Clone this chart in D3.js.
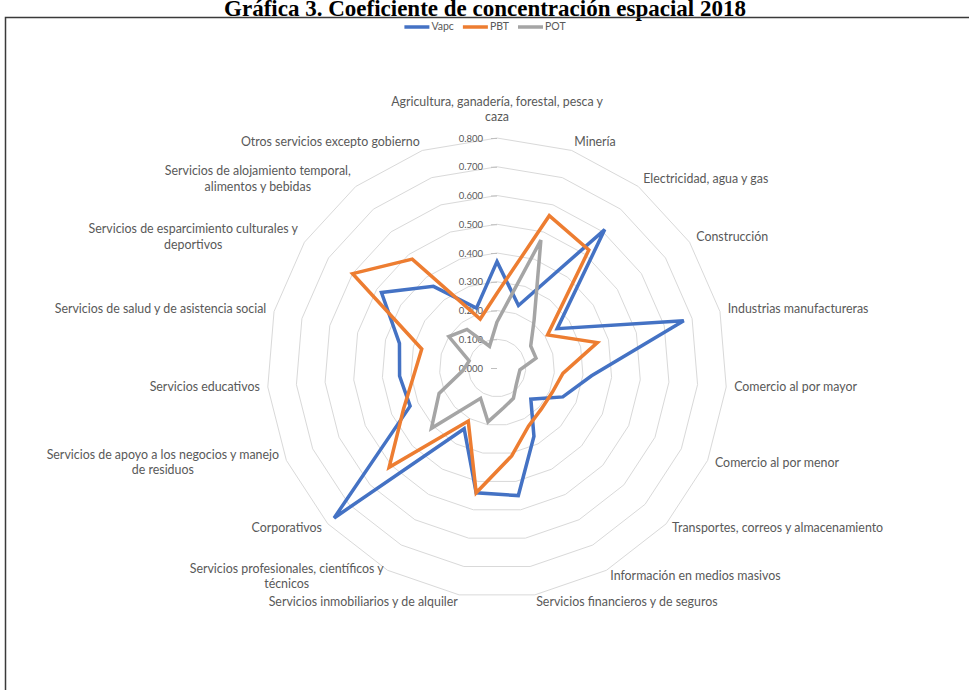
<!DOCTYPE html>
<html lang="es">
<head>
<meta charset="UTF-8">
<title>Gráfica 3. Coeficiente de concentración espacial 2018</title>
<script src="https://d3js.org/d3.v7.min.js"></script>
<style>
    body {margin: 0; background: #fff}
    text {font-family: Lato, 'Open Sans', sans-serif; fill: #595959}
    .ring {fill: none; stroke: #d9d9d9; stroke-width: 1}
    .serie {fill: none; stroke-width: 3.5; stroke-linejoin: miter}
    .title {font-family: 'Liberation Serif', serif; font-weight: bold; font-size: 23px; fill: #000}
    .axis .domain {display: none}
    .axis line {stroke: #bfbfbf}
    .axis text {font-size: 9.5px}
    .cat {font-size: 12.4px}
    .legend text {font-size: 10.5px}
</style>
</head>
<body>
<script>
    const width  = 969;
    const height = 690;
    const cx = 497, cy = 368;   // centre of the radar
    const radius = 230;         // radius of the 0.800 ring

    // categories, clockwise from the top ("\n" = line break in the label)
    const categories = [
        "Agricultura, ganadería, forestal, pesca y\ncaza",
        "Minería",
        "Electricidad, agua y gas",
        "Construcción",
        "Industrias manufactureras",
        "Comercio al por mayor",
        "Comercio al por menor",
        "Transportes, correos y almacenamiento",
        "Información en medios masivos",
        "Servicios financieros y de seguros",
        "Servicios inmobiliarios y de alquiler",
        "Servicios profesionales, científicos y\ntécnicos",
        "Corporativos",
        "Servicios de apoyo a los negocios y manejo\nde residuos",
        "Servicios educativos",
        "Servicios de salud y de asistencia social",
        "Servicios de esparcimiento culturales y\ndeportivos",
        "Servicios de alojamiento temporal,\nalimentos y bebidas",
        "Otros servicios excepto gobierno"
    ];

    const vapc = [0.37, 0.23, 0.61, 0.25, 0.67, 0.33, 0.25, 0.16, 0.27, 0.45,
                  0.44, 0.24, 0.77, 0.33, 0.34, 0.35, 0.48, 0.36, 0.22];
    const pbt  = [0.26, 0.56, 0.52, 0.21, 0.36, 0.23, 0.21, 0.21, 0.23, 0.31,
                  0.44, 0.21, 0.51, 0.355, 0.29, 0.27, 0.60, 0.48, 0.18];
    const pot  = [0.16, 0.47, 0.21, 0.14, 0.14, 0.08, 0.08, 0.09, 0.12, 0.14,
                  0.19, 0.12, 0.31, 0.22, 0.12, 0.10, 0.20, 0.17, 0.08];

    const radialTicks  = [0, 0.1, 0.2, 0.3, 0.4, 0.5, 0.6, 0.7, 0.8];
    const seriesNames  = ["Vapc", "PBT", "POT"];
    const seriesColors = ["#4472c4", "#ed7d31", "#a5a5a5"];
    const seriesData   = [vapc, pbt, pot];

    const n = categories.length;

    const angle = d3.scaleLinear().domain([0, n]).range([0, 2 * Math.PI]);
    const rScale = d3.scaleLinear().domain([0, 0.8]).range([0, radius]);

    const svg = d3.select("body").append("svg")
            .attr("width", width).attr("height", height);

    // title and the frame
    svg.append("text").attr("class", "title")
            .attr("x", 485).attr("y", 16)
            .attr("text-anchor", "middle")
            .text("Gráfica 3. Coeficiente de concentración espacial 2018");

    svg.append("rect")
            .attr("x", 5.5).attr("y", 17.5)
            .attr("width", 1000).attr("height", 700)
            .attr("fill", "none").attr("stroke", "#3a3a3a").attr("stroke-width", 1.5);

    const g = svg.append("g").attr("transform", `translate(${cx},${cy})`);

    // polygonal grid
    const ringLine = d3.lineRadial()
            .angle((d, i) => angle(i))
            .radius(d => d)
            .curve(d3.curveLinearClosed);

    g.selectAll("path.ring")
        .data(radialTicks.filter(t => t > 0))
        .join("path").attr("class", "ring")
        .attr("d", t => ringLine(categories.map(() => rScale(t))));

    // value axis on the top spoke
    const yAxis = d3.scaleLinear().domain([0, 0.8]).range([0, -radius]);
    g.append("g").attr("class", "axis")
        .call(d3.axisLeft(yAxis)
            .tickValues(radialTicks)
            .tickFormat(d3.format(".3f"))
            .tickSizeInner(6).tickSizeOuter(0).tickPadding(8))
        .selectAll("text").attr("font-family", null).attr("font-size", null);

    // series
    const serieLine = d3.lineRadial()
            .angle((d, i) => angle(i))
            .radius(d => rScale(d))
            .curve(d3.curveLinearClosed);

    g.selectAll("path.serie")
        .data(seriesData)
        .join("path").attr("class", "serie")
        .attr("stroke", (d, i) => seriesColors[i])
        .attr("d", serieLine);

    // category labels
    const lineH = 15.5;
    const pad = 8;
    categories.forEach((c, i) => {
        const a = angle(i);
        const s = Math.sin(a), co = Math.cos(a);
        const ax = (radius + pad) * s;
        const ay = -(radius + pad) * co;
        const lines = c.split("\n");
        const t = g.append("text").attr("class", "cat")
                .attr("text-anchor", "middle")
                .attr("dominant-baseline", "middle");
        const spans = lines.map(l => t.append("tspan").text(l));
        const w = d3.max(spans, sp => sp.node().getComputedTextLength());
        const h = lines.length * lineH;
        let x = ax;
        if (s > 0.1) x = ax + w / 2;
        else if (s < -0.1) x = ax - w / 2;
        let y0 = ay - h / 2 + lineH / 2;
        if (Math.abs(s) <= 0.1 && co > 0) y0 = ay - 4 - h + lineH / 2;
        spans.forEach((sp, k) => sp.attr("x", x).attr("y", y0 + k * lineH));
    });

    // legend
    const legend = svg.append("g").attr("class", "legend");
    let lx = 0;
    seriesNames.forEach((name, i) => {
        const item = legend.append("g").attr("transform", `translate(${lx},0)`);
        item.append("line")
            .attr("x1", 0).attr("x2", 25).attr("y1", 0).attr("y2", 0)
            .attr("stroke", seriesColors[i]).attr("stroke-width", 3.5);
        const tx = item.append("text").attr("x", 27).attr("y", 0)
            .attr("dominant-baseline", "middle").text(name);
        lx += 27 + tx.node().getComputedTextLength() + 9;
    });
    legend.attr("transform", `translate(${485 - (lx - 9) / 2},27)`);
</script>
</body>
</html>
